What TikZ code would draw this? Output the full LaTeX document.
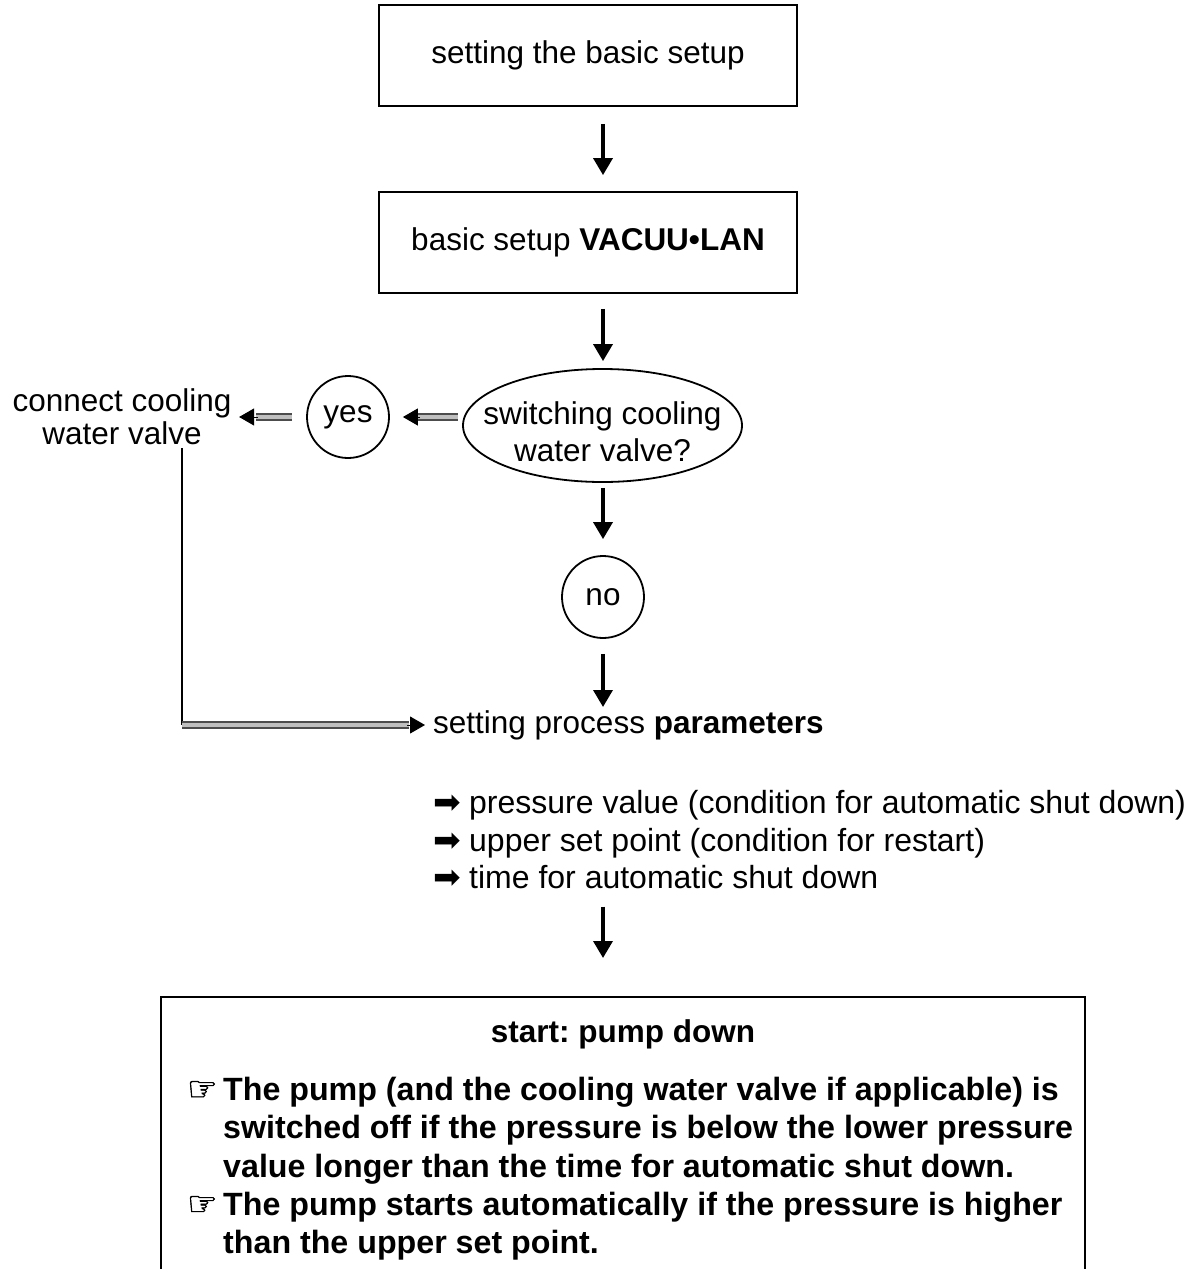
\documentclass[tikz,border=0pt]{standalone}
\usepackage{fontspec}
\setmainfont{Liberation Sans}
\newfontfamily\symf{DejaVu Sans}
\newfontfamily\handf[FakeBold=1.5]{DejaVu Sans}
\usetikzlibrary{arrows.meta,calc,shapes.geometric}
\frenchspacing
\begin{document}
\begin{tikzpicture}[x=1pt,y=-1pt,
  every node/.style={font=\fontsize{31.5}{37}\selectfont, inner sep=0pt},
  boxst/.style={draw, line width=1.8pt, rectangle},
  circst/.style={draw, line width=1.8pt, circle, minimum size=82pt},
  downarr/.style={line width=3.5pt, -{Triangle[width=19pt,length=17pt]}},
  dblline/.style={draw=black!70, line width=8pt},
  dblinner/.style={draw=black!25, line width=3.5pt},
  tipst/.style={-{Triangle[width=17pt,length=15pt]}, line width=1pt}
]
\useasboundingbox (0,0) rectangle (1189,1269);
\coordinate (ax) at (603,0);
% boxes
\node[boxst, minimum width=418pt, minimum height=101pt] (b1) at (588,55.5) {setting the basic setup};
\node[boxst, minimum width=418pt, minimum height=101pt] (b2) at (588,242.5) {basic setup \textbf{VACUU•LAN}};
\node[draw, line width=1.8pt, ellipse, minimum width=279pt, minimum height=113pt] (ell) at (602.5,425.5) {};
\node[align=center] (ellt) at (602.5,432) {switching cooling\\water valve?};
\node[circst] (yes) at (348,417) {};
\node (yest) at (348,417) {yes};
\node[align=center, font=\fontsize{31.5}{33}\selectfont] (conn) at (122,416.5) {connect cooling\\water valve};
\node[circst] (no) at (603,597) {};
\node (not) at (603,597) {no};
\node[anchor=west] (par) at (433,725) {setting process \textbf{parameters}};
\node[anchor=north west, align=left, font=\fontsize{32}{37.8}\selectfont] (bul) at (433,790)
 {\makebox[36pt][l]{\symf\fontsize{33}{37}\selectfont ➡}pressure value (condition for automatic shut down)\\
  \makebox[36pt][l]{\symf\fontsize{33}{37}\selectfont ➡}upper set point (condition for restart)\\
  \makebox[36pt][l]{\symf\fontsize{33}{37}\selectfont ➡}time for automatic shut down};
% bottom box (bottom edge outside the page)
\coordinate (b3nw) at (161,997);
\coordinate (b3se) at (1085,1300);
\draw[line width=1.8pt] (b3nw) rectangle (b3se);
\node[font=\bfseries\fontsize{31.5}{38}\selectfont] (start) at (623,1034) {start: pump down};
\node[anchor=north west, align=left, font=\bfseries\fontsize{32.2}{38.3}\selectfont] (txt) at (187,1077)
 {\makebox[36pt][l]{\handf\mdseries\fontsize{34}{38}\selectfont ☞}The pump (and the cooling water valve if applicable) is\\
  \hspace*{36pt}switched off if the pressure is below the lower pressure\\
  \hspace*{36pt}value longer than the time for automatic shut down.\\
  \makebox[36pt][l]{\handf\mdseries\fontsize{34}{38}\selectfont ☞}The pump starts automatically if the pressure is higher\\
  \hspace*{36pt}than the upper set point.};
% vertical arrows
\draw[downarr, shorten <=17pt, shorten >=16pt] (b1.south -| ax) -- (b2.north -| ax);
\draw[downarr, shorten <=15pt, shorten >=7pt] (b2.south -| ax) -- (ell.north -| ax);
\draw[downarr, shorten <=5pt, shorten >=16pt] (ell.south -| ax) -- (no.north);
\draw[downarr, shorten <=15pt, shorten >=18pt] (no.south) -- (par.west -| ax);
\draw[downarr, shorten <=17pt, shorten >=39pt] (bul.south -| ax) -- (b3nw -| ax);
% double arrows
\draw[dblline] ($(yes.east)+(68,0)$) -- ($(yes.east)+(28,0)$);
\draw[dblinner] ($(yes.east)+(68,0)$) -- ($(yes.east)+(28,0)$);
\draw[tipst] ($(yes.east)+(30,0)$) -- ($(yes.east)+(13,0)$);
\draw[dblline] ($(yes.west)+(-14,0)$) -- ($(yes.west)+(-50,0)$);
\draw[dblinner] ($(yes.west)+(-14,0)$) -- ($(yes.west)+(-50,0)$);
\draw[tipst] ($(yes.west)+(-48,0)$) -- ($(yes.west)+(-67,0)$);
% return path
\coordinate (vtop) at (182,448);
\coordinate (corner) at (vtop |- par.west);
\draw[line width=1.8pt] (vtop) -- (corner);
\draw[dblline] (corner) -- ($(par.west)+(-24,0)$);
\draw[dblinner] (corner) -- ($(par.west)+(-24,0)$);
\draw[tipst] ($(par.west)+(-26,0)$) -- ($(par.west)+(-8,0)$);
\end{tikzpicture}
\end{document}
